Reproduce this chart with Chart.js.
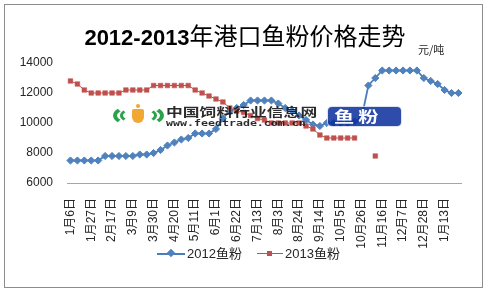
<!DOCTYPE html>
<html>
<head>
<meta charset="utf-8">
<script src="https://cdn.jsdelivr.net/npm/chart.js@4"></script>
<style>
  html, body { margin: 0; padding: 0; background: #fff; }
  #wrap { position: relative; width: 488px; height: 292px; overflow: hidden; background: #fff; }
  #c { position: absolute; left: 0; top: 0; }
  .ov { position: absolute; white-space: nowrap; }
  #frame { position: absolute; left: 4px; top: 4px; width: 479px; height: 284px; border: 1px solid #8c8c8c; box-sizing: border-box; pointer-events: none; }
  #title { left: 0; width: 490px; top: 17px; text-align: center; color: #000; line-height: 30px; }
  #title .d { font: bold 22px 'Liberation Sans', 'Noto Sans CJK SC', sans-serif; }
  #title .h { font: 24px 'Noto Sans CJK SC', sans-serif; }
  #unit { left: 418px; top: 41px; font: 11px 'Noto Sans CJK SC', sans-serif; color: #262626; }
  .leg { top: 246px; height: 16px; font: 13px 'Liberation Sans', 'Noto Sans CJK SC', sans-serif; color: #262626; line-height: 16px; }
  .leg .ln { position: absolute; top: 7px; height: 0; }
  .leg .mk { position: absolute; }
  .leg .tx { position: absolute; top: 0; }
  #wm { opacity: 0.92; }
  #logoOuter { position: absolute; left: 113px; top: 104px; width: 51px; height: 23px; border-radius: 50%; border: 4px solid #1a9a3a; border-top-color: transparent; border-bottom-color: transparent; box-sizing: border-box; }
  #logoInner { position: absolute; left: 120px; top: 107px; width: 37px; height: 17px; border-radius: 50%; border: 3px solid #1a9a3a; border-top-color: transparent; border-bottom-color: transparent; box-sizing: border-box; }
  #logoCore { position: absolute; left: 132px; top: 109px; width: 12px; height: 14px; background: #f0a020; border-radius: 2px 2px 6px 6px; }
  #logoDot { position: absolute; left: 136px; top: 104px; width: 4px; height: 4px; background: #f0a020; border-radius: 50%; }
  #wmcn { left: 166px; top: 104px; font: bold 12px 'Noto Sans CJK SC', sans-serif; color: #1a1a1a; transform: scaleX(1.4); transform-origin: 0 0; line-height: 16px; }
  #wmen { left: 166px; top: 118px; font: bold 9px 'DejaVu Sans Mono', monospace; color: #1a1a1a; transform: scaleX(1.29); transform-origin: 0 0; line-height: 10px; }
  #fishTag { position: absolute; left: 328px; top: 107px; width: 73px; height: 19px; background: #0b2f9c; border-radius: 4px; box-shadow: 0 0 0 1px #d8def0; opacity: 0.93; }
  #fishTx { left: 334px; top: 106px; font: bold 15px 'Noto Sans CJK SC', sans-serif; color: #fff; letter-spacing: 3px; transform: scaleX(1.35); transform-origin: 0 0; line-height: 20px; }
</style>
</head>
<body>
<div id="wrap">
  <canvas id="c" width="488" height="292"></canvas>
  <div id="wm">
    <div id="logoOuter"></div>
    <div id="logoInner"></div>
    <div id="logoCore"></div>
    <div id="logoDot"></div>
    <div class="ov" id="wmcn">中国饲料行业信息网</div>
    <div class="ov" id="wmen">www.feedtrade.com.cn</div>
    <div id="fishTag"></div>
    <div class="ov" id="fishTx">鱼粉</div>
  </div>
  <div class="ov" id="title"><span class="d">2012-2013</span><span class="h">年港口鱼粉价格走势</span></div>
  <div class="ov" id="unit">元/吨</div>
  <div class="ov leg" style="left:157px;">
    <div class="ln" style="left:0;width:28px;border-top:2px solid #4A7EBB;top:7px;"></div>
    <div class="mk" style="left:11px;top:4px;width:6px;height:6px;background:#4F81BD;transform:rotate(45deg);"></div>
    <div class="tx" style="left:30px;" id="leg1"></div>
  </div>
  <div class="ov leg" style="left:257px;">
    <div class="ln" style="left:0;width:26px;border-top:1px solid #C0504D;top:7px;"></div>
    <div class="mk" style="left:10px;top:5px;width:5px;height:5px;background:#C0504D;"></div>
    <div class="tx" style="left:28px;" id="leg2"></div>
  </div>
  <div id="frame"></div>
</div>
<script>
const categories = [
  '1月6日','1月13日','1月20日','1月27日',
  '2月3日','2月10日','2月17日','2月24日',
  '3月2日','3月9日','3月16日','3月23日','3月30日',
  '4月6日','4月13日','4月20日','4月27日',
  '5月4日','5月11日','5月18日','5月25日',
  '6月1日','6月8日','6月15日','6月22日','6月29日',
  '7月6日','7月13日','7月20日','7月27日',
  '8月3日','8月10日','8月17日','8月24日','8月31日',
  '9月7日','9月14日','9月21日','9月28日',
  '10月5日','10月12日','10月19日','10月26日',
  '11月2日','11月9日','11月16日','11月23日','11月30日',
  '12月7日','12月14日','12月21日','12月28日',
  '1月4日','1月8日','1月13日','1月18日','1月25日'
];

const seriesNames = ['2012鱼粉', '2013鱼粉'];

const fish2012 = [
  7500, 7500, 7500, 7500, 7500,
  7800, 7800, 7800, 7800, 7800,
  7900, 7900, 8000, 8200, 8500, 8700, 8900, 9000,
  9300, 9300, 9300, 9600, 10300, 10800, 11000, 11200,
  11500, 11500, 11500, 11500, 11300, 11000, 10800, 10500, 10200, 9900, 9800,
  10000, 10000, 10000, 10000, 10100, 10300,
  12500, 13000, 13500, 13500, 13500, 13500, 13500, 13500,
  13000, 12800, 12600, 12200, 12000, 12000
];

const fish2013 = [
  12800, 12600, 12200, 12000, 12000, 12000, 12000, 12000,
  12200, 12200, 12200, 12200,
  12500, 12500, 12500, 12500, 12500, 12500,
  12200, 12000, 11800, 11600, 11400, 11000, 10800, 10700, 10500, 10300, 10200,
  10000, 10000, 10000, 10000, 10000, 9800, 9600, 9200,
  9000, 9000, 9000, 9000, 9000,
  null, null, 7800,
  null, null, null, null, null, null, null, null, null, null, null, null
];

const yTicks = { min: 6000, max: 14000, step: 1000 };
const labelEvery = 3;

document.getElementById('leg1').textContent = seriesNames[0];
document.getElementById('leg2').textContent = seriesNames[1];

const tickFont = { family: "'Liberation Sans', 'Noto Sans CJK SC', sans-serif", size: 12 };

new Chart(document.getElementById('c'), {
  type: 'line',
  data: {
    labels: categories,
    datasets: [
      {
        label: seriesNames[0],
        data: fish2012,
        borderColor: '#4A7EBB',
        borderWidth: 1.8,
        pointStyle: 'rectRot',
        pointRadius: 3.6,
        pointBackgroundColor: '#4F81BD',
        pointBorderColor: '#4F81BD',
        pointBorderWidth: 1,
        tension: 0,
        order: 1
      },
      {
        label: seriesNames[1],
        data: fish2013,
        borderColor: '#C0504D',
        borderWidth: 1,
        pointStyle: 'rect',
        pointRadius: 3.3,
        pointBackgroundColor: '#C0504D',
        pointBorderColor: '#C0504D',
        pointBorderWidth: 0.5,
        tension: 0,
        spanGaps: false,
        order: 0
      }
    ]
  },
  options: {
    responsive: false,
    animation: false,
    layout: { padding: { left: 20, right: 17, top: 63, bottom: 43 } },
    plugins: { legend: { display: false }, tooltip: { enabled: false }, title: { display: false } },
    scales: {
      x: {
        offset: true,
        grid: { display: false, drawTicks: false },
        border: { display: true, color: '#a6a6a6', width: 1 },
        ticks: {
          autoSkip: false,
          minRotation: 90,
          maxRotation: 90,
          padding: 15,
          color: '#262626',
          font: tickFont,
          callback: function (v, i) { return i % labelEvery === 0 ? categories[i] : ''; }
        },
        afterFit: function (s) { s.height = 66; }
      },
      y: {
        min: yTicks.min,
        max: yTicks.max,
        grid: { display: false, drawTicks: false },
        border: { display: false },
        ticks: { stepSize: yTicks.step, padding: 14, color: '#262626', font: tickFont,
          callback: function (v) { return String(v); } },
        afterFit: function (s) { s.width = 47; }
      }
    }
  }
});
</script>
</body>
</html>
